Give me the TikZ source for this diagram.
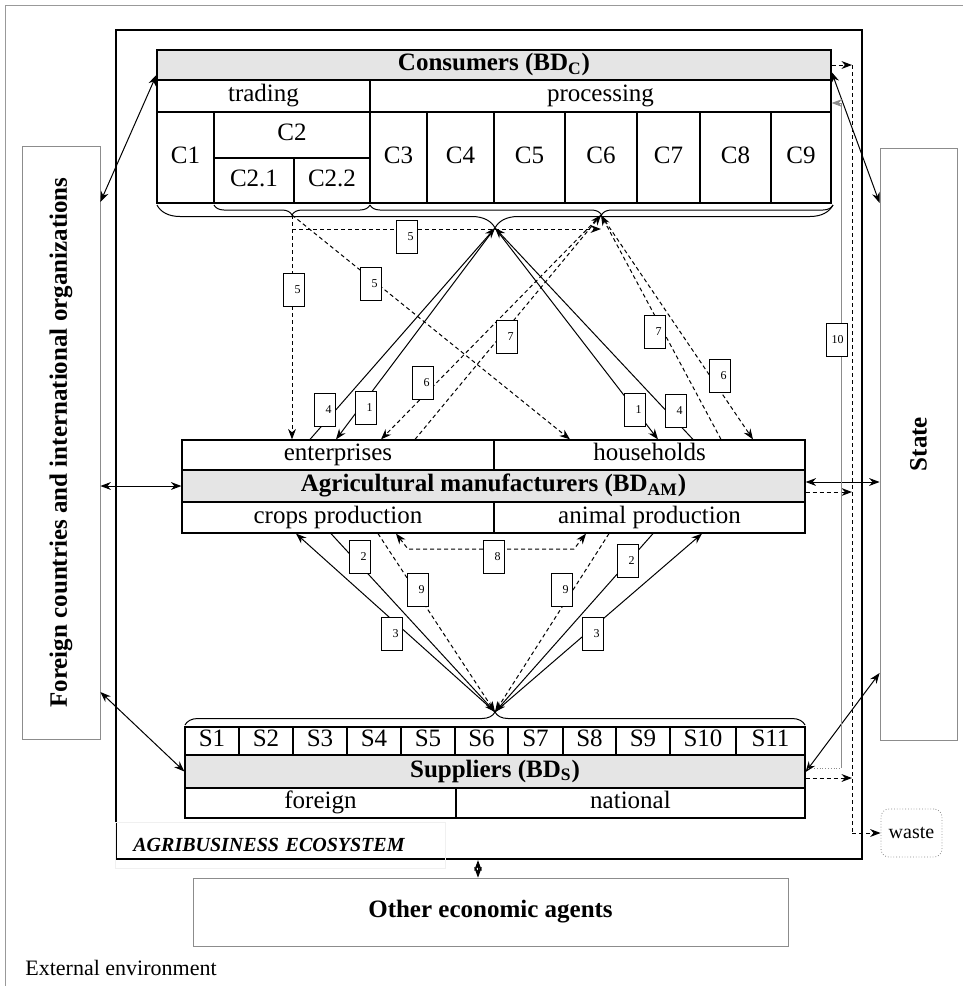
\documentclass[tikz,border=0pt]{standalone}
\usepackage{fontspec}
\setmainfont{Liberation Serif}
\usepackage{tikz}
\usetikzlibrary{arrows.meta, fit, decorations.pathreplacing}

\newcommand{\diagfont}{\fontsize{12.5}{15}\selectfont}

\begin{document}
\begin{tikzpicture}[x=0.5pt, y=-0.5pt, >=Stealth, font=\diagfont,
        every label/.style={text height=1.55ex, text depth=0.35ex},
        cell/.style={draw, line width=0.6pt, inner sep=0pt, label={center:#1}},
        head/.style={draw, line width=0.6pt, inner sep=0pt, fill=black!10, label={[font=\diagfont\bfseries]center:#1}},
        side/.style={draw=black!45, inner sep=0pt},
        flow/.style={line width=0.5pt},
        flowd/.style={flow, dash pattern=on 2pt off 1.5pt},
        num/.style={draw, fill=white, line width=0.5pt, minimum height=16.5pt, text width=6.5pt, inner xsep=2pt, align=right, font=\fontsize{6}{7}\selectfont}]
        \useasboundingbox (0,0) rectangle (963,986);
        \draw[black!40] (5,986) -- (5,5) -- (963,5);

        % ecosystem frame
        \node[draw, line width=1.2pt, inner sep=0pt, fit={(116,30)(862,859)}] (ECO) {};
        \node[draw=black!6, anchor=north west, text width=147pt, inner xsep=9pt, minimum height=23pt, align=left, font=\bfseries\itshape\fontsize{10}{12}\selectfont] (ECOTXT) at (115,822) {AGRIBUSINESS ECOSYSTEM};

        % consumers
        \node[head={Consumers (BD\textsubscript{C})}, fit={(157,50)(831,80)}] (CONS) {};
        \node[cell=trading, fit={(157,80)(370,112)}] (TRADE) {};
        \node[cell=processing, fit={(370,80)(831,112)}] (PROC) {};
        \node[cell=C1, fit={(157,112)(214,203)}] (C1) {};
        \node[cell=C2, fit={(214,112)(370,158)}] (C2) {};
        \node[cell=C2.1, fit={(214,158)(294,203)}] (C21) {};
        \node[cell=C2.2, fit={(294,158)(370,203)}] (C22) {};
        \foreach \i/\a/\b in {3/370/427, 4/427/494, 5/494/565, 6/565/637, 7/637/700, 8/700/771, 9/771/831}
            \node[cell=C\i, fit={(\a,112)(\b,203)}] (C\i) {};
        \draw[flow, decorate, decoration={brace, mirror, amplitude=11.5pt}] (157,205) -- (833,205);
        \draw[flow, decorate, decoration={brace, mirror, amplitude=5pt}] (214,205) -- (370,205);
        \draw[flow, decorate, decoration={brace, mirror, amplitude=5pt}] (370,205) -- (833,205);
        \coordinate (TALL) at (495,228);
        \coordinate (TTRADE) at (292,215);
        \coordinate (TPROC) at (601,215);

        % agricultural manufacturers
        \node[cell=enterprises, fit={(182,440)(494,470)}] (ENT) {};
        \node[cell=households, fit={(494,440)(805,470)}] (HH) {};
        \node[head={Agricultural manufacturers (BD\textsubscript{AM})}, fit={(182,470)(805,502)}] (AM) {};
        \node[cell=crops production, fit={(182,502)(494,533)}] (CROPS) {};
        \node[cell=animal production, fit={(494,502)(805,533)}] (ANIMAL) {};

        % suppliers
        \draw[flow, decorate, decoration={brace, amplitude=6.5pt}] (185,725) -- (805,725);
        \coordinate (TSUPP) at (495,712);
        \foreach \i/\a/\b in {1/185/239, 2/239/293, 3/293/347, 4/347/401, 5/401/455, 6/455/508, 7/508/563, 8/563/616, 9/616/670, 10/670/736, 11/736/805}
            \node[cell=S\i, fit={(\a,727)(\b,755)}] (S\i) {};
        \node[head={Suppliers (BD\textsubscript{S})}, fit={(185,755)(805,788)}] (SUPP) {};
        \node[cell=foreign, fit={(185,788)(456,818)}] (FOREIGN) {};
        \node[cell=national, fit={(456,788)(805,818)}] (NATIONAL) {};

        % outside
        \node[side, fit={(22,146)(100,739)}] (WORLD) {};
        \node[rotate=90, font=\diagfont\bfseries] (WORLDTXT) at (WORLD) {Foreign countries and international organizations};
        \node[side, fit={(880,148)(957,740)}] (STATE) {};
        \node[rotate=90, font=\diagfont\bfseries] (STATETXT) at (STATE) {State};
        \node[side, fit={(193,878)(788,946)}, label={[font=\diagfont\bfseries]center:Other economic agents}] (OTHER) {};
        \node[draw=black!45, densely dotted, rounded corners=4pt, inner sep=0pt, fit={(881,809)(942,857)}, label={[font=\fontsize{10}{12}\selectfont]center:waste}] (WASTE) {};
        \node[anchor=west, inner sep=0pt, font=\fontsize{11}{13}\selectfont] (EXT) at (25,968) {External environment};

        % consumers <-> manufacturers
        \draw[flowd, ->] (TTRADE) -- (TTRADE |- ENT.north);
        \draw[flowd, ->] (TTRADE) -- (570,0 |- HH.north);
        \draw[flowd, ->] (TTRADE) |- ([yshift=-7pt]TPROC);
        \draw[flow, ->] (310,0 |- ENT.north) -- (TALL);
        \draw[flow, ->] (TALL) -- (336,0 |- ENT.north);
        \draw[flow, ->] (TALL) -- (658,0 |- HH.north);
        \draw[flow, ->] (693,0 |- HH.north) -- (TALL);
        \draw[flowd, ->] (TPROC) -- (381,0 |- ENT.north);
        \draw[flowd, ->] (415,0 |- ENT.north) -- (TPROC);
        \draw[flowd, ->] (721,0 |- HH.north) -- (TPROC);
        \draw[flowd, ->] (TPROC) -- (753,0 |- HH.north);

        % manufacturers <-> suppliers
        \draw[flow, ->] (TSUPP) -- (296,0 |- CROPS.south);
        \draw[flow, ->] (331,0 |- CROPS.south) -- (TSUPP);
        \draw[flowd, ->] (378,0 |- CROPS.south) -- (TSUPP);
        \draw[flowd, <->] (396,0 |- CROPS.south) -- (408,549) -- (574,549) -- (586,0 |- ANIMAL.south);
        \draw[flowd, ->] (609,0 |- ANIMAL.south) -- (TSUPP);
        \draw[flow, ->] (653,0 |- ANIMAL.south) -- (TSUPP);
        \draw[flow, ->] (TSUPP) -- (702,0 |- ANIMAL.south);

        % links to the environment
        \draw[flow, <->] (WORLD.east |- 0,202) -- (CONS.west |- 0,75);
        \draw[flow, <->] (WORLD.east |- AM.west) -- (AM.west);
        \draw[flow, <->] (WORLD.east |- 0,692) -- (SUPP.west);
        \draw[flow, <->] (CONS.east |- 0,72) -- (STATE.west |- 0,203);
        \draw[flow, <->] (AM.east |- 0,482) -- (STATE.west |- 0,482);
        \draw[flow, <->] (SUPP.east |- 0,772) -- (STATE.west |- 0,673);
        \draw[flow, <->] (478,0 |- ECO.south) -- (478,0 |- OTHER.north);

        % waste
        \coordinate (WTOP) at (852,65);
        \coordinate (WBOT) at (852,833);
        \draw[flowd] (WTOP) -- (WBOT);
        \draw[flowd, ->] (WBOT) -- (WASTE);
        \draw[flowd, ->] (CONS.east |- WTOP) -- (WTOP);
        \draw[flowd, ->] (AM.east |- 0,492) -- (WTOP |- 0,492);
        \draw[flowd, ->] (SUPP.east |- 0,778) -- (WTOP |- 0,778);

        % flow 10
        \coordinate (TENBOT) at (841,768);
        \coordinate (TENTOP) at (841,103);
        \draw[black!45, densely dotted] (SUPP.east |- TENBOT) -- (TENBOT);
        \draw[flow, black!45, ->] (TENBOT) -- (TENTOP) -- (PROC.east |- TENTOP);

        % numbers
        \node[num] (N5A) at (407,237) {5};
        \node[num] (N5B) at (294,290) {5};
        \node[num] (N5C) at (371,284) {5};
        \node[num] (N4L) at (325,410) {4};
        \node[num] (N1L) at (366,408) {1};
        \node[num] (N6L) at (423,383) {6};
        \node[num] (N7L) at (507,337) {7};
        \node[num] (N7R) at (655,332) {7};
        \node[num] (N6R) at (720,376) {6};
        \node[num] (N1R) at (635,410) {1};
        \node[num] (N4R) at (676,411) {4};
        \node[num] (N10) at (837,340) {10};
        \node[num] (N2L) at (360,557) {2};
        \node[num] (N9L) at (418,590) {9};
        \node[num] (N3L) at (392,634) {3};
        \node[num] (N8) at (494,557) {8};
        \node[num] (N9R) at (562,590) {9};
        \node[num] (N2R) at (628,561) {2};
        \node[num] (N3R) at (593,634) {3};
\end{tikzpicture}
\end{document}
